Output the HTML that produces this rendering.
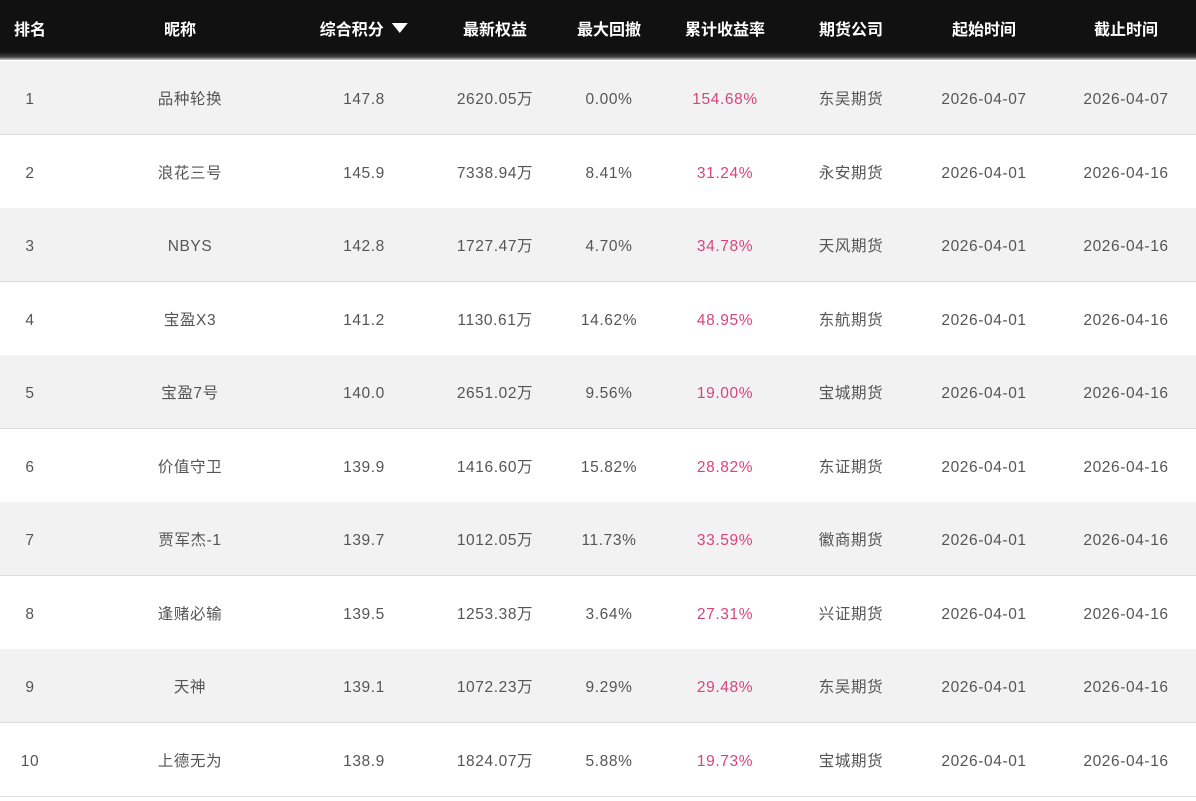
<!DOCTYPE html>
<html><head><meta charset="utf-8"><style>
body{margin:0;width:1196px;height:793px;overflow:hidden;background:#fff;font-family:"Liberation Sans","Noto Sans CJK SC",sans-serif;}
.hd{position:absolute;left:0;top:0;width:1196px;height:60px;background:linear-gradient(#111 0,#111 52px,#444 57px,#ccc 60px);}
.row{position:absolute;left:0;width:1196px;height:73px;border-bottom:1px solid #ddd;}
.c{position:absolute;transform:translateX(-50%);white-space:nowrap;}
.h{color:#fff;font-weight:bold;font-size:16px;top:0;line-height:62px;}
.d{color:#555;font-size:15.5px;top:0;line-height:78px;height:74px;letter-spacing:0.6px;}
.p{color:#d9437d;}
</style></head><body>
<div class="hd">
<span class="c h" style="left:30px">排名</span>
<span class="c h" style="left:180px">昵称</span>
<span class="c h" style="left:364px">综合积分 <span style="display:inline-block;width:0;height:0;border-left:8px solid transparent;border-right:8px solid transparent;border-top:10px solid #fff;vertical-align:2px;margin-left:4px"></span></span>
<span class="c h" style="left:495px">最新权益</span>
<span class="c h" style="left:609px">最大回撤</span>
<span class="c h" style="left:725px">累计收益率</span>
<span class="c h" style="left:851px">期货公司</span>
<span class="c h" style="left:984px">起始时间</span>
<span class="c h" style="left:1126px">截止时间</span>
</div>
<div id="rows"></div>
<script>
var d=[["1","品种轮换","147.8","2620.05万","0.00%","154.68%","东吴期货","2026-04-07","2026-04-07"],
["2","浪花三号","145.9","7338.94万","8.41%","31.24%","永安期货","2026-04-01","2026-04-16"],
["3","NBYS","142.8","1727.47万","4.70%","34.78%","天风期货","2026-04-01","2026-04-16"],
["4","宝盈X3","141.2","1130.61万","14.62%","48.95%","东航期货","2026-04-01","2026-04-16"],
["5","宝盈7号","140.0","2651.02万","9.56%","19.00%","宝城期货","2026-04-01","2026-04-16"],
["6","价值守卫","139.9","1416.60万","15.82%","28.82%","东证期货","2026-04-01","2026-04-16"],
["7","贾军杰-1","139.7","1012.05万","11.73%","33.59%","徽商期货","2026-04-01","2026-04-16"],
["8","逢赌必输","139.5","1253.38万","3.64%","27.31%","兴证期货","2026-04-01","2026-04-16"],
["9","天神","139.1","1072.23万","9.29%","29.48%","东吴期货","2026-04-01","2026-04-16"],
["10","上德无为","138.9","1824.07万","5.88%","19.73%","宝城期货","2026-04-01","2026-04-16"]];
var x=[30,190,364,495,609,725,851,984,1126],h="";
d.forEach(function(r,i){h+='<div class="row" style="top:'+Math.round(61+i*73.5)+'px;background:'+(i%2?'#fff':'#f2f2f2')+'">';
r.forEach(function(t,j){h+='<span class="c d'+(j==5?' p':'')+'" style="left:'+x[j]+'px">'+t+'</span>';});h+='</div>';});
document.getElementById('rows').innerHTML=h;
</script>
</body></html>
